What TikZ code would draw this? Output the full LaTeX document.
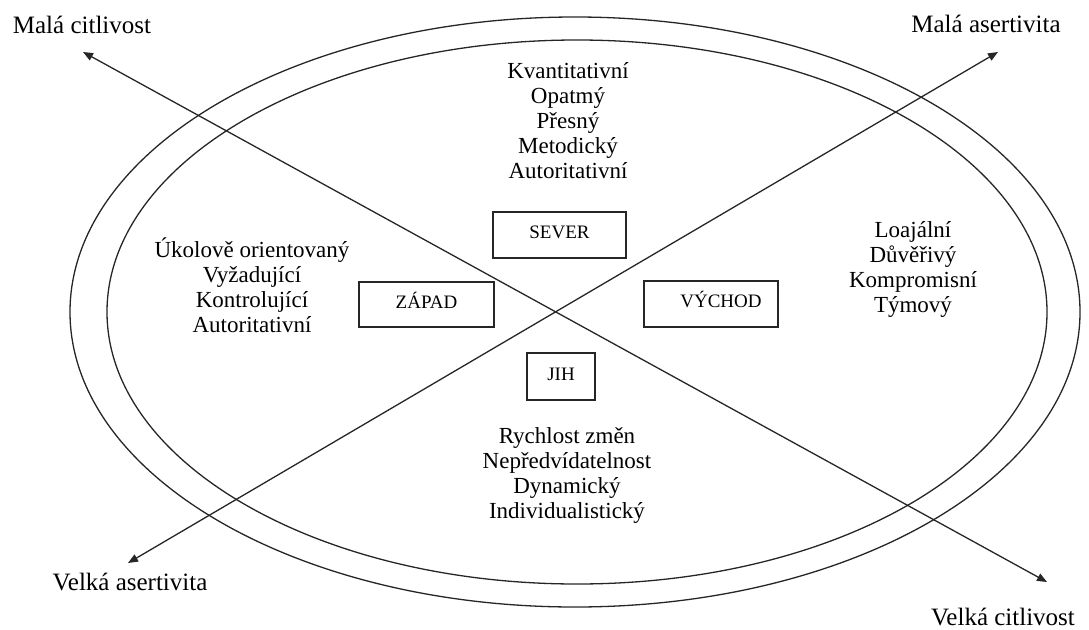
\documentclass[tikz,border=0pt]{standalone}
\usepackage{fontspec}
\setmainfont{Liberation Serif}
\usetikzlibrary{arrows.meta}
\begin{document}
\begin{tikzpicture}[x=1pt,y=-1pt,
  ring/.style={draw=black!85, line width=1.3pt},
  axis/.style={draw=black!85, line width=1.3pt,
    {Triangle[length=10pt,width=8pt]}-{Triangle[length=10pt,width=8pt]}},
  pole/.style={font=\fontsize{25}{28}\selectfont, inner sep=0pt, anchor=base},
  traits/.style={align=center, font=\fontsize{23}{25}\selectfont, inner sep=0pt, anchor=base},
  region/.style={draw=black!85, line width=1.3pt, font=\fontsize{19}{22}\selectfont,
    text height=14pt, text depth=7pt, inner sep=0pt}
]
\useasboundingbox (0,0) rectangle (1089,629);

% two concentric rings
\draw[ring] (575,312) ellipse [x radius=505, y radius=295];
\draw[ring] (577,312) ellipse [x radius=470, y radius=272];

% axis end points
\coordinate (cLow)  at (83,52);
\coordinate (cHigh) at (1047,582);
\coordinate (aLow)  at (998,52);
\coordinate (aHigh) at (128,563);

% crossing axes
\draw[axis] (cLow) -- (cHigh);
\draw[axis] (aLow) -- (aHigh);

% axis labels
\node[pole] (malaCit)  at (82,33)   {Malá citlivost};
\node[pole] (malaAs)   at (986,32)  {Malá asertivita};
\node[pole] (velkaAs)  at (130,590) {Velká asertivita};
\node[pole] (velkaCit) at (1003,625) {Velká citlivost};

% compass boxes
\node[region, minimum width=133pt, minimum height=46pt] (sever)  at (559.5,235) {SEVER};
\node[region, minimum width=135pt, minimum height=45pt] (zapad)  at (426.5,304.5) {ZÁPAD};
\node[region, minimum width=134pt, minimum height=46pt] (vychod) at (711,304) {\hspace*{20pt}VÝCHOD};
\node[region, minimum width=68pt,  minimum height=47pt] (jih)    at (561,376.5) {JIH};

% trait lists (anchored at the baseline of the last line)
\node[traits] (severList) at (568,178)
  {Kvantitativní\\Opatmý\\Přesný\\Metodický\\Autoritativní};
\node[traits] (zapadList) at (252,332)
  {Úkolově orientovaný\\Vyžadující\\Kontrolující\\Autoritativní};
\node[traits] (vychodList) at (913,312)
  {Loajální\\Důvěřivý\\Kompromisní\\Týmový};
\node[traits] (jihList) at (567,518)
  {Rychlost změn\\Nepředvídatelnost\\Dynamický\\Individualistický};
\end{tikzpicture}
\end{document}
